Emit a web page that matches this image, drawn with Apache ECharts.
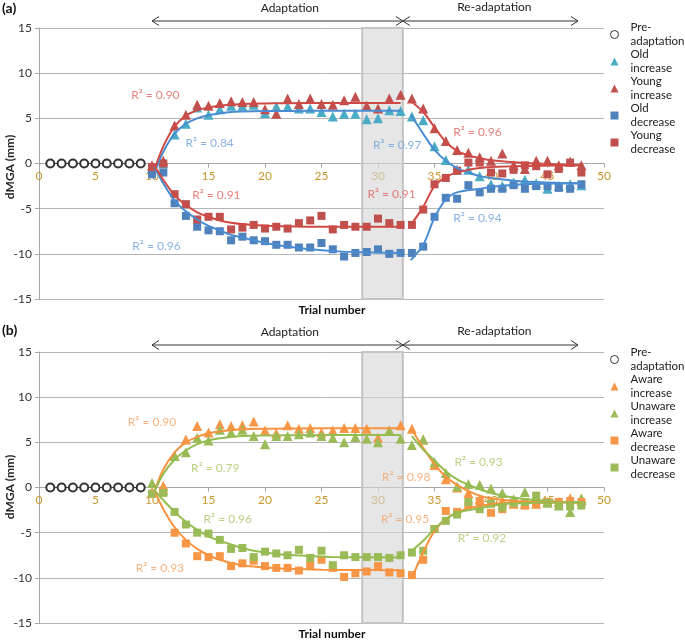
<!DOCTYPE html>
<html><head><meta charset="utf-8">
<script src="https://cdn.jsdelivr.net/npm/echarts@6/dist/echarts.min.js"></script>
<style>html,body{margin:0;padding:0;background:#fff}#c{width:685px;height:641px}</style>
</head><body><div id="c"></div>
<script>
// ---------- data ----------
const preTrials = [1,2,3,4,5,6,7,8,9];
const preValues = [0,0,0,0,0,0,0,0,0];
const trials = [10,11,12,13,14,15,16,17,18,19,20,21,22,23,24,25,26,27,28,29,30,31,32,33,34,35,36,37,38,39,40,41,42,43,44,45,46,47,48];
const xTicks = [0,5,10,15,20,25,30,35,40,45,50];
const yTicks = [-15,-10,-5,0,5,10,15];

// panel (a)
const oldIncrease   = [-0.5,0.0,3.2,4.4,6.2,5.4,6.0,6.4,6.4,6.5,5.6,6.3,6.3,6.1,6.1,5.7,5.2,5.5,5.5,4.9,5.0,5.9,5.8,5.2,4.8,1.9,0.4,-0.7,-0.7,-1.4,-2.3,-2.5,-2.1,-1.8,-2.2,-2.8,-2.5,-2.3,-2.4];
const youngIncrease = [-0.2,0.3,4.2,5.4,6.5,6.4,6.7,6.9,6.8,6.8,6.0,5.5,7.2,6.6,7.2,6.6,6.5,7.0,7.4,6.4,6.1,7.2,7.6,7.2,6.1,3.9,2.5,1.5,1.2,0.7,0.3,1.1,-0.2,-0.6,0.3,0.3,-0.2,0.2,-0.2];
const oldDecrease   = [-1.2,-1.0,-4.4,-5.8,-7.0,-7.4,-7.5,-8.5,-8.1,-8.5,-8.6,-9.0,-9.0,-9.3,-9.3,-8.8,-9.5,-10.3,-9.9,-9.8,-9.5,-10.0,-9.9,-9.9,-9.2,-5.9,-3.8,-3.9,-2.4,-3.2,-2.8,-2.8,-2.4,-2.8,-2.5,-2.5,-2.7,-2.8,-2.3];
const youngDecrease = [-0.4,0.0,-3.4,-4.5,-6.2,-5.9,-5.9,-7.3,-7.1,-6.8,-7.2,-7.0,-7.2,-6.6,-6.3,-5.8,-7.3,-6.8,-7.0,-7.0,-6.1,-6.6,-6.8,-6.8,-5.1,-2.3,-1.6,-0.8,0.1,0.1,-1.0,-1.1,-0.7,-0.2,-0.3,-1.2,-0.6,0.1,-1.0];

// panel (b)
const awareIncrease   = [-0.5,0.2,3.5,5.3,6.8,6.1,7.0,6.8,6.9,7.3,6.3,6.0,6.9,6.5,6.6,6.1,6.3,6.6,6.6,6.5,5.5,6.3,6.9,6.5,5.3,2.5,0.9,0.0,-0.6,-1.3,-1.5,-1.5,-1.8,-1.8,-1.8,-1.6,-1.6,-1.2,-1.4];
const unawareIncrease = [0.5,-0.3,3.5,3.9,5.5,5.2,6.4,6.1,6.4,5.7,4.8,5.7,5.7,5.9,6.1,5.7,5.5,5.0,5.6,5.4,5.0,6.3,5.4,4.7,5.3,2.8,1.6,0.1,0.4,0.3,-0.1,-0.6,-1.3,-0.5,-1.0,-1.7,-2.0,-2.7,-1.2];
const awareDecrease   = [-0.7,-0.4,-5.0,-6.2,-7.6,-7.7,-7.6,-8.7,-8.4,-8.1,-8.7,-8.9,-8.9,-9.2,-8.6,-8.0,-8.9,-9.9,-9.5,-9.3,-8.7,-9.4,-9.5,-9.7,-8.0,-4.6,-2.6,-2.7,-2.0,-1.5,-2.8,-2.4,-1.7,-2.0,-1.7,-1.6,-1.6,-1.5,-1.6];
const unawareDecrease = [-0.7,-0.6,-2.7,-4.1,-5.0,-5.1,-5.8,-6.8,-6.7,-7.7,-7.1,-7.3,-7.5,-6.9,-7.8,-7.0,-8.6,-7.5,-7.7,-7.7,-7.7,-7.8,-7.5,-7.2,-7.0,-4.6,-3.7,-3.0,-1.6,-2.4,-1.8,-2.2,-1.7,-1.6,-0.9,-1.7,-2.0,-2.1,-2.0];

// fitted curves: [trial, value]
const oldIncFitA   = [[10.4,-0.5],[11,1.3],[12,3.3],[13,4.4],[14,5.0],[15,5.35],[16,5.55],[17,5.7],[18,5.75],[20,5.8],[24,5.85],[32,5.85]];
const youngIncFitA = [[10.3,-0.4],[11,1.9],[12,4.1],[13,5.3],[14,5.9],[15,6.2],[16,6.4],[17,6.5],[18,6.6],[20,6.65],[24,6.7],[32,6.7]];
const oldDecFitA   = [[10.2,-0.3],[11,-2.2],[12,-4.1],[13,-5.3],[14,-6.2],[15,-6.9],[16,-7.4],[17,-7.9],[18,-8.2],[19,-8.5],[20,-8.8],[21,-9.0],[22,-9.2],[23,-9.35],[24,-9.5],[26,-9.7],[28,-9.8],[32,-9.9]];
const youngDecFitA = [[10.2,-0.2],[11,-1.8],[12,-3.5],[13,-4.6],[14,-5.4],[15,-5.9],[16,-6.3],[17,-6.55],[18,-6.7],[19,-6.8],[20,-6.9],[22,-6.95],[26,-7.0],[32,-7.0]];
const oldIncFitB   = [[32.9,5.4],[34,3.3],[35,1.5],[36,0.3],[37,-0.5],[38,-1.0],[39,-1.4],[40,-1.6],[42,-1.9],[45,-2.1],[48,-2.2]];
const youngIncFitB = [[32.8,7.0],[34,5.7],[35,4.0],[36,2.4],[37,1.4],[38,0.9],[39,0.6],[40,0.35],[43,0.05],[48,-0.2]];
const oldDecFitB   = [[32.9,-10.7],[34,-9.0],[35,-6.0],[36,-4.0],[37,-3.2],[39,-2.8],[40,-2.6],[43,-2.3],[48,-2.2]];
const youngDecFitB = [[32.9,-6.8],[34,-4.8],[35,-2.5],[36,-1.5],[37,-1.0],[38,-0.7],[39,-0.5],[40,-0.4],[42,-0.3],[48,-0.2]];

const awareIncFitA   = [[10.2,-0.5],[11,2.0],[12,3.9],[13,5.0],[14,5.6],[15,6.0],[16,6.2],[17,6.35],[18,6.45],[20,6.5],[25,6.55],[32,6.55]];
const unawareIncFitA = [[10.2,-0.5],[11,1.5],[12,3.1],[13,4.1],[14,4.8],[15,5.2],[16,5.45],[17,5.6],[18,5.7],[20,5.75],[25,5.8],[32,5.8]];
const awareDecFitA   = [[10.2,-0.3],[11,-2.4],[12,-4.4],[13,-5.8],[14,-6.8],[15,-7.5],[16,-8.0],[17,-8.35],[18,-8.6],[19,-8.75],[20,-8.85],[22,-9.0],[25,-9.1],[32,-9.15]];
const unawareDecFitA = [[10.2,-0.3],[11,-1.4],[12,-2.7],[13,-3.8],[14,-4.7],[15,-5.4],[16,-5.9],[17,-6.3],[18,-6.7],[19,-7.0],[20,-7.2],[21,-7.35],[22,-7.45],[24,-7.6],[26,-7.7],[32,-7.75]];
const awareIncFitB   = [[33,6.4],[34,4.4],[35,2.6],[36,1.2],[37,0.3],[38,-0.4],[39,-0.9],[40,-1.2],[42,-1.5],[45,-1.6],[48,-1.65]];
const unawareIncFitB = [[33,5.7],[34,4.2],[35,3.0],[36,1.8],[37,0.9],[38,0.3],[39,-0.2],[40,-0.6],[42,-1.1],[45,-1.5],[48,-1.7]];
const awareDecFitB   = [[33,-10.0],[34,-7.2],[35,-4.8],[36,-3.5],[37,-2.8],[38,-2.3],[40,-1.85],[42,-1.7],[48,-1.6]];
const unawareDecFitB = [[33,-7.0],[34,-5.9],[35,-4.6],[36,-3.5],[37,-2.8],[39,-2.3],[41,-1.85],[44,-1.7],[48,-1.6]];

// R² annotations [trial, value, text]
const r2TopText = ['R² = 0.90','R² = 0.84','R² = 0.91','R² = 0.96','R² = 0.97','R² = 0.96','R² = 0.91','R² = 0.94'];
const r2TopX    = [10.3,15.1,15.7,10.4,31.7,38.8,31.2,38.8];
const r2TopY    = [7.6,2.3,-3.5,-9.1,2.0,3.5,-3.4,-6.1];
const r2TopSeries = ['young','old','young','old','old','young','young','old'];
const r2BotText = ['R² = 0.90','R² = 0.79','R² = 0.96','R² = 0.93','R² = 0.93','R² = 0.98','R² = 0.95','R² = 0.92'];
const r2BotX    = [10.0,15.6,16.7,10.7,38.9,32.5,32.4,39.2];
const r2BotY    = [7.2,2.2,-3.5,-8.9,2.8,1.1,-3.5,-5.6];
const r2BotSeries = ['aware','unaware','unaware','aware','unaware','aware','aware','unaware'];

// washout band and phase arrows (trial numbers)
const bandRange = [28.6, 32.2];
const adaptArrow = [10, 32.2];
const readaptArrow = [32.2, 47.7];
const adaptLabelX = 22.2, readaptLabelX = 40.3;

// ---------- styling ----------
const FONT = 'Lato, "Open Sans", sans-serif';
const C = {
  oldTri:'#4BACC6', oldSq:'#4F81BD', oldLine:'#4A8CD2', oldLabel:'#6A9FDA',
  young:'#C0504D', youngLine:'#CF4A45', youngLabel:'#DE615C',
  aware:'#F79646', awareLine:'#F7923F', awareLabel:'#F6A061',
  unaware:'#9BBB59', unawareLine:'#95BC4E', unawareLabel:'#A9C564'
};
const labelColor = {old:C.oldLabel, young:C.youngLabel, aware:C.awareLabel, unaware:C.unawareLabel};

const pairs = (xs, ys) => xs.map((x,i)=>[x, ys[i]]);
const GRID_H = 271;

function axes(gi){
  return {
    x: {
      type:'value', gridIndex:gi, min:0, max:50, interval:5,
      position:'bottom', offset:-GRID_H/2,
      axisLine:{onZero:false, lineStyle:{color:'#a6a6a6', width:1}},
      axisTick:{show:true, length:4, lineStyle:{color:'#a6a6a6'}},
      axisLabel:{color:'#c8962a', fontSize:12, fontFamily:FONT, margin:7},
      splitLine:{show:false}
    },
    y: {
      type:'value', gridIndex:gi, min:-15, max:15, interval:5,
      axisLine:{show:true, onZero:false, lineStyle:{color:'#a6a6a6'}},
      axisTick:{show:true, length:4, lineStyle:{color:'#a6a6a6'}},
      axisLabel:{color:'#333', fontSize:12, fontFamily:FONT, margin:7},
      splitLine:{show:true, lineStyle:{color:'#b5b5b5', width:1}}
    }
  };
}

function scatter(gi, name, ys, symbol, color, size){
  return {type:'scatter', name, xAxisIndex:gi, yAxisIndex:gi, data:pairs(trials, ys),
    symbol, symbolSize:size, itemStyle:{color, opacity:1}, z:2, silent:true};
}
function fit(gi, data, color){
  return {type:'line', xAxisIndex:gi, yAxisIndex:gi, data, smooth:0.35, showSymbol:false,
    symbol:'none', lineStyle:{color, width:2}, z:3, silent:true};
}
function pre(gi){
  return {type:'line', name:'Pre-adaptation', xAxisIndex:gi, yAxisIndex:gi, data:pairs(preTrials, preValues),
    symbol:'emptyCircle', symbolSize:8, showAllSymbol:true,
    itemStyle:{color:'#333', borderColor:'#333', borderWidth:1.1},
    lineStyle:{color:'#333', width:1}, z:2, silent:true};
}
function band(gi){
  return {type:'line', xAxisIndex:gi, yAxisIndex:gi, data:[], z:10, silent:true,
    markArea:{silent:true, itemStyle:{color:'rgba(214,214,214,0.62)', borderColor:'#c4c4c4', borderWidth:2},
      data:[[{xAxis:bandRange[0]},{xAxis:bandRange[1]}]]}};
}
function r2(gi, xs, ys, texts, groups){
  return {type:'scatter', xAxisIndex:gi, yAxisIndex:gi, symbolSize:0, z:12, silent:true,
    data: xs.map((x,i)=>({value:[x, ys[i]], label:{show:true, formatter:texts[i], color:labelColor[groups[i]]}})),
    label:{show:true, position:'inside', fontSize:12, fontFamily:FONT}};
}

const a0 = axes(0), a1 = axes(1);

const legendText = {fontSize:11.5, color:'#222', fontFamily:FONT, lineHeight:13.5, padding:[13.5,0,0,7]};
function legend(top, names){
  return {orient:'vertical', left:610, top, padding:0, itemGap:-13.5, itemWidth:8, itemHeight:8,
    textStyle:legendText, selectedMode:false,
    formatter: n => n.replace('Pre-','Pre-\n').replace(' ','\n'),
    data: names.map(n => n==='Pre-adaptation'
      ? {name:n, icon:'circle', itemStyle:{color:'#fff', borderColor:'#333', borderWidth:1}}
      : {name:n})};
}

const option = {
  animation:false,
  backgroundColor:'#fff',
  grid:[
    {left:39, top:28, width:565, height:GRID_H, containLabel:false, outerBoundsMode:'none'},
    {left:39, top:352, width:565, height:GRID_H, containLabel:false, outerBoundsMode:'none'}
  ],
  xAxis:[a0.x, a1.x],
  yAxis:[a0.y, a1.y],
  legend:[
    legend(14.25, ['Pre-adaptation','Old increase','Young increase','Old decrease','Young decrease']),
    legend(339.25, ['Pre-adaptation','Aware increase','Unaware increase','Aware decrease','Unaware decrease'])
  ],
  series:[
    pre(0),
    scatter(0,'Old increase', oldIncrease, 'triangle', C.oldTri, 10),
    scatter(0,'Young increase', youngIncrease, 'triangle', C.young, 10),
    scatter(0,'Old decrease', oldDecrease, 'rect', C.oldSq, 8),
    scatter(0,'Young decrease', youngDecrease, 'rect', C.young, 8),
    fit(0, oldIncFitA, C.oldLine), fit(0, youngIncFitA, C.youngLine),
    fit(0, oldDecFitA, C.oldLine), fit(0, youngDecFitA, C.youngLine),
    fit(0, oldIncFitB, C.oldLine), fit(0, youngIncFitB, C.youngLine),
    fit(0, oldDecFitB, C.oldLine), fit(0, youngDecFitB, C.youngLine),
    band(0),
    r2(0, r2TopX, r2TopY, r2TopText, r2TopSeries),

    pre(1),
    scatter(1,'Aware increase', awareIncrease, 'triangle', C.aware, 10),
    scatter(1,'Unaware increase', unawareIncrease, 'triangle', C.unaware, 10),
    scatter(1,'Aware decrease', awareDecrease, 'rect', C.aware, 8),
    scatter(1,'Unaware decrease', unawareDecrease, 'rect', C.unaware, 8),
    fit(1, awareIncFitA, C.awareLine), fit(1, unawareIncFitA, C.unawareLine),
    fit(1, awareDecFitA, C.awareLine), fit(1, unawareDecFitA, C.unawareLine),
    fit(1, awareIncFitB, C.awareLine), fit(1, unawareIncFitB, C.unawareLine),
    fit(1, awareDecFitB, C.awareLine), fit(1, unawareDecFitB, C.unawareLine),
    band(1),
    r2(1, r2BotX, r2BotY, r2BotText, r2BotSeries)
  ]
};

const chart = echarts.init(document.getElementById('c'), null, {renderer:'canvas'});
chart.setOption(option);

// annotations outside the plot: phase arrows, titles
function px(gi, v){ return chart.convertToPixel({xAxisIndex:gi}, v); }
const ink = '#333';
function arrowHead(x, y, dir){
  return {type:'polyline', shape:{points:[[x - dir*7, y-4.5],[x, y],[x - dir*7, y+4.5]]},
    style:{stroke:ink, lineWidth:1, fill:null}, silent:true};
}
function phaseGraphics(gi, yArrow, yText){
  const out = [];
  [adaptArrow, readaptArrow].forEach(s => {
    const x0 = px(gi, s[0]), x1 = px(gi, s[1]);
    out.push({type:'line', shape:{x1:x0, y1:yArrow, x2:x1, y2:yArrow}, style:{stroke:ink, lineWidth:1}, silent:true});
    out.push(arrowHead(x0, yArrow, -1));
    out.push(arrowHead(x1, yArrow, 1));
  });
  out.push({type:'text', x:px(gi, adaptLabelX), y:yText, silent:true,
    style:{text:'Adaptation', fontSize:12, fontFamily:FONT, fill:'#222', align:'center', verticalAlign:'middle'}});
  out.push({type:'text', x:px(gi, readaptLabelX), y:yText-1, silent:true,
    style:{text:'Re-adaptation', fontSize:12, fontFamily:FONT, fill:'#222', align:'center', verticalAlign:'middle'}});
  return out;
}
function yName(yc){
  return {type:'text', x:10, y:yc, rotation:Math.PI/2, silent:true,
    style:{text:'dMGA (mm)', fontSize:12, fontWeight:'bold', fontFamily:FONT, fill:'#222', align:'center', verticalAlign:'middle'}};
}
const g = [];
g.push(...phaseGraphics(0, 21, 8));
g.push(...phaseGraphics(1, 345, 332));
g.push(yName(167), yName(487));
g.push({type:'text', left:2, top:1, silent:true, style:{text:'(a)', fontSize:14, fontWeight:'bold', fontFamily:FONT, fill:'#111'}});
g.push({type:'text', left:2, top:323, silent:true, style:{text:'(b)', fontSize:14, fontWeight:'bold', fontFamily:FONT, fill:'#111'}});
g.push({type:'text', x:332, y:310, silent:true, style:{text:'Trial number', fontSize:12, fontWeight:'bold', fontFamily:FONT, fill:'#111', align:'center', verticalAlign:'middle'}});
g.push({type:'text', x:332, y:634, silent:true, style:{text:'Trial number', fontSize:12, fontWeight:'bold', fontFamily:FONT, fill:'#111', align:'center', verticalAlign:'middle'}});
chart.setOption({graphic:g});
</script>
</body></html>
